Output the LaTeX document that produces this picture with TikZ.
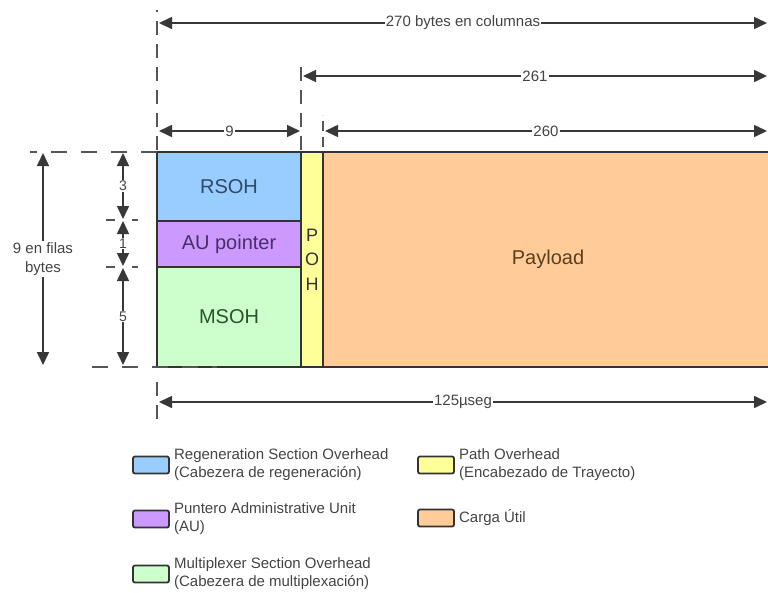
\documentclass[tikz,border=0pt]{standalone}
\usepackage{fontspec}
\setmainfont{Liberation Sans}
\usetikzlibrary{arrows.meta,positioning,calc}

\definecolor{rsoh}{HTML}{99CCFF}
\definecolor{aup}{HTML}{CC99FF}
\definecolor{msoh}{HTML}{CCFFCC}
\definecolor{poh}{HTML}{FFFF99}
\definecolor{carga}{HTML}{FFCC99}
\definecolor{borde}{HTML}{333333}
\definecolor{linea}{HTML}{383838}
\definecolor{guia}{HTML}{555555}
\definecolor{txtgris}{HTML}{444444}
\definecolor{rsohtxt}{HTML}{2E4A66}
\definecolor{auptxt}{HTML}{4A2E66}
\definecolor{msohtxt}{HTML}{2E5230}
\definecolor{cargatxt}{HTML}{5C3E1E}

\tikzset{
  bloque/.style={draw=borde,line width=2pt,outer sep=0pt,anchor=north west,
    font=\fontsize{20}{24}\selectfont},
  cota/.style={draw=linea,line width=1.6pt,
    {Triangle[length=13pt,width=12pt]}-{Triangle[length=13pt,width=12pt]}},
  guia/.style={draw=guia,line width=2pt,dash pattern=on 14pt off 9pt},
  etiq/.style={fill=white,inner sep=1pt,text=txtgris,font=\fontsize{15}{19}\selectfont},
  caja/.style={draw=borde,line width=1.8pt,rounded corners=2pt,
    minimum width=36pt,minimum height=17pt,inner sep=0pt},
  leyenda/.style={right=4pt,inner sep=0pt,align=left,text=txtgris,
    font=\fontsize{15}{18}\selectfont}
}

\begin{document}
\begin{tikzpicture}[x=1pt,y=-1pt]
  \useasboundingbox (0,0) rectangle (768,592);
  \clip (0,0) rectangle (768,592);

  % Trama STM-1
  \node[bloque,fill=rsoh,text=rsohtxt,minimum width=144pt,minimum height=69pt]
    (rsoh) at (157,152) {RSOH};
  \node[bloque,fill=aup,text=auptxt,minimum width=144pt,minimum height=46pt]
    (aup) at (rsoh.south west) {AU pointer};
  \node[bloque,fill=msoh,text=msohtxt,minimum width=144pt,minimum height=100pt]
    (msoh) at (aup.south west) {MSOH};
  \node[bloque,fill=poh,text=borde,minimum width=22pt,minimum height=215pt,
    align=center,inner sep=0pt,font=\fontsize{18}{24.5}\selectfont]
    (poh) at (rsoh.north east) {P\\O\\H};
  \node[bloque,fill=carga,text=cargatxt,minimum width=450pt,minimum height=215pt]
    (carga) at (poh.north east) {Payload};

  % Lineas de referencia
  \draw[guia] (rsoh.north west) ++(0,-2) -- (157,10);
  \draw[guia] (rsoh.north east) ++(0,-2) -- (301,62);
  \draw[guia,dash pattern=on 10pt off 6pt] (323,147) -- (323,115);
  \draw[guia] (157,382) -- (157,420);
  \draw[guia,dash pattern=on 16pt off 14pt] (rsoh.north west) -- (30,152);
  \draw[guia,dash pattern=on 16pt off 14pt] (92,367) -- (217,367);
  \draw[guia,dash pattern=on 9pt off 17pt] (106,220) -- (138,220);
  \draw[guia,dash pattern=on 9pt off 17pt] (106,267) -- (138,267);

  % Cotas horizontales
  \foreach \n/\yy/\xa/\xb/\txt in {c270/23/159/767/270 bytes en columnas,
      c261/76/303/767/261, c260/131/325/767/260, c9/131/159/300/9,
      ctiempo/402/159/767/125µseg} {
    \coordinate (\n a) at (\xa,\yy);
    \coordinate (\n b) at (\xb,\yy);
    \draw[cota] (\n a) -- node[etiq] {\txt} (\n b);
  }

  % Cotas verticales
  \foreach \n/\xx/\ya/\yb/\txt in {f3/123/153/219/3, f1/123/221/266/1,
      f5/123/268/365/5} {
    \coordinate (\n a) at (\xx,\ya);
    \coordinate (\n b) at (\xx,\yb);
    \draw[cota] (\n a) -- node[etiq,font=\fontsize{14}{17}\selectfont] {\txt} (\n b);
  }
  \coordinate (filasa) at (43,153);
  \coordinate (filasb) at (43,365);
  \draw[cota] (filasa) -- node[etiq,align=center,inner sep=2pt] {9 en filas\\bytes} (filasb);

  % Leyenda
  \node[caja,fill=rsoh] (lrsoh) at (151,465) {};
  \node[leyenda] (trsoh) at (lrsoh.east)
    {Regeneration Section Overhead\\(Cabezera de regeneración)};
  \node[caja,fill=aup] (laup) at (151,519) {};
  \node[leyenda] (taup) at (laup.east) {Puntero Administrative Unit\\(AU)};
  \node[caja,fill=msoh] (lmsoh) at (151,574) {};
  \node[leyenda] (tmsoh) at (lmsoh.east)
    {Multiplexer Section Overhead\\(Cabezera de multiplexación)};
  \node[caja,fill=poh] (lpoh) at (436,465) {};
  \node[leyenda] (tpoh) at (lpoh.east) {Path Overhead\\(Encabezado de Trayecto)};
  \node[caja,fill=carga] (lcarga) at (436,518) {};
  \node[leyenda] (tcarga) at (lcarga.east) {Carga Útil};
\end{tikzpicture}
\end{document}
